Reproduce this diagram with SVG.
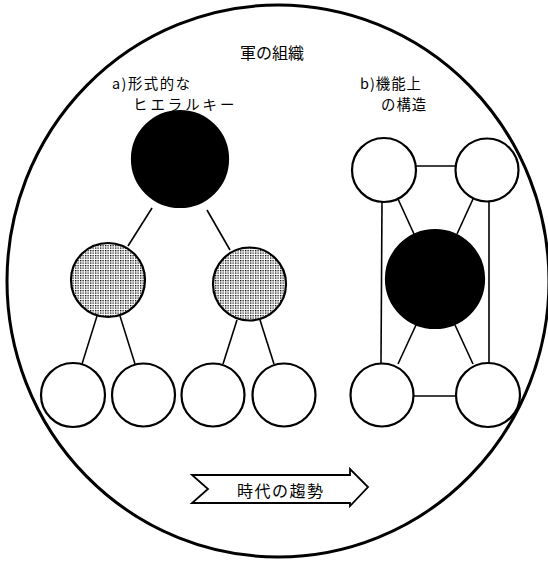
<svg xmlns="http://www.w3.org/2000/svg" width="548" height="561" viewBox="0 0 548 561">
<style>
.n{stroke:#000;stroke-width:2.2}
.w{fill:#fff}
.b{fill:#000}
.g{fill:url(#dots)}
.c line{stroke:#000;stroke-width:1.6}
text{font-family:"Noto Sans CJK JP","Liberation Serif",serif;font-size:16px;fill:#000}
.s{font-size:14.4px}
</style>
<defs>
<pattern id="dots" width="2.5" height="2.5" patternUnits="userSpaceOnUse">
<rect width="2.5" height="2.5" fill="#fff"/>
<rect width="1.3" height="1.3" fill="#000"/>
</pattern>
</defs>
<rect width="548" height="561" fill="#fff"/>
<ellipse id="frame" cx="278" cy="281" rx="271" ry="276" fill="none" stroke="#000" stroke-width="3"/>
<g id="title"><text x="272" y="59" text-anchor="middle">軍の組織</text></g>
<g id="label-a"><text class="s" x="112" y="89" letter-spacing="1.5">a)形式的な</text><text class="s" x="133" y="110" letter-spacing="3">ヒエラルキー</text></g>
<g id="label-b"><text class="s" x="360" y="89" letter-spacing="1">b)機能上</text><text class="s" x="381" y="110" letter-spacing="1">の構造</text></g>
<g class="c" id="connectors">
<line x1="152" y1="208" x2="128" y2="246"/>
<line x1="207" y1="210" x2="230" y2="250"/>
<line x1="97" y1="316" x2="82" y2="364"/>
<line x1="120" y1="316" x2="135" y2="364"/>
<line x1="237" y1="320" x2="223" y2="364"/>
<line x1="260" y1="320" x2="274" y2="364"/>
<line x1="416" y1="166" x2="455" y2="166"/>
<line x1="414" y1="396" x2="456" y2="396"/>
<line x1="382" y1="201" x2="381" y2="363"/>
<line x1="489" y1="201" x2="489" y2="363"/>
<line x1="398" y1="199" x2="414" y2="234"/>
<line x1="473" y1="199" x2="457" y2="234"/>
<line x1="416" y1="325" x2="398" y2="364"/>
<line x1="455" y1="325" x2="473" y2="364"/>
</g>
<g id="a-root"><circle class="n b" cx="180" cy="159" r="48"/></g>
<g id="a-mid1"><circle class="n g" cx="108" cy="280" r="37"/></g>
<g id="a-mid2"><circle class="n g" cx="249.5" cy="284" r="36.5"/></g>
<g id="a-leaf1"><circle class="n w" cx="73" cy="395" r="32"/></g>
<g id="a-leaf2"><circle class="n w" cx="143.5" cy="395" r="31.5"/></g>
<g id="a-leaf3"><circle class="n w" cx="213" cy="395" r="31.5"/></g>
<g id="a-leaf4"><circle class="n w" cx="284" cy="395" r="31.5"/></g>
<g id="b-tl"><circle class="n w" cx="384" cy="170" r="32"/></g>
<g id="b-tr"><circle class="n w" cx="487" cy="170" r="31.5"/></g>
<g id="b-center"><circle class="n b" cx="435" cy="279" r="49"/></g>
<g id="b-bl"><circle class="n w" cx="382" cy="395" r="31.5"/></g>
<g id="b-br"><circle class="n w" cx="488" cy="395" r="32"/></g>
<g id="trend">
<polygon points="192,475 350,475 350,469 368,487 350,506 350,503 192,503 208,489" fill="#fff" stroke="#000" stroke-width="1.8" stroke-linejoin="miter"/>
<text x="237" y="497" font-size="17" letter-spacing="1.5">時代の趨勢</text>
</g>
</svg>
